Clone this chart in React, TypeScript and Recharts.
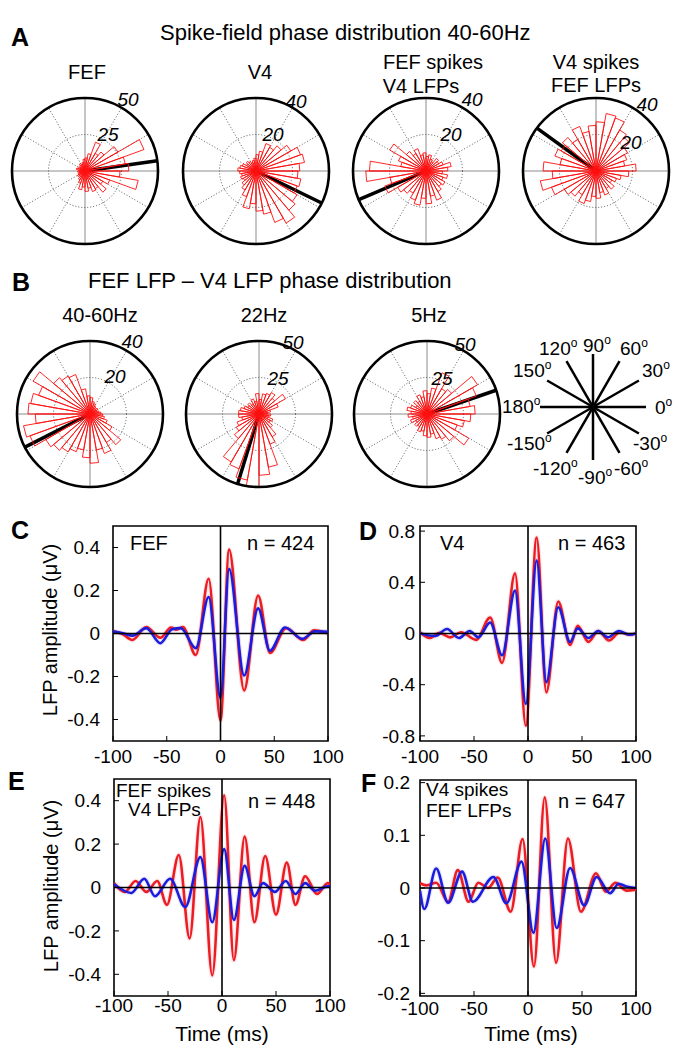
import React from 'react';
import {
  LineChart,
  Line,
  ScatterChart,
  Scatter,
  XAxis,
  YAxis,
  ReferenceLine,
  ReferenceDot,
  ReferenceArea,
} from 'recharts';

const FONT = '"Liberation Sans", Arial, Helvetica, sans-serif';
const RED = '#ec1c24';
const BLUE = '#1c1cdc';

// Phase histograms: counts in 36 bins of 10 deg, from 0 deg counter-clockwise.
const roseFef = [30, 28, 43, 26, 17, 14, 21, 12, 9, 8, 6, 5, 6, 5, 4, 5, 6, 4, 5, 4, 5, 6, 5, 7, 9, 13, 11, 14, 12, 15, 14, 19, 14, 18, 37, 24];
const roseV4 = [24, 27, 26, 22, 18, 15, 16, 11, 9, 7, 6, 5, 6, 7, 6, 8, 9, 10, 9, 8, 9, 8, 10, 12, 15, 21, 18, 22, 24, 30, 33, 28, 26, 24, 25, 23];
const roseFefV4 = [12, 14, 10, 8, 9, 6, 7, 9, 8, 10, 9, 13, 11, 14, 23, 16, 14, 31, 33, 20, 24, 18, 16, 14, 17, 19, 15, 18, 14, 17, 13, 11, 12, 10, 12, 9];
const roseV4Fef = [22, 16, 18, 20, 24, 26, 31, 32, 27, 25, 22, 26, 20, 24, 22, 24, 20, 29, 24, 31, 26, 20, 18, 15, 19, 17, 14, 15, 12, 14, 11, 13, 10, 12, 14, 18];
const roseGamma = [6, 5, 4, 5, 4, 5, 6, 7, 9, 10, 14, 23, 24, 26, 36, 30, 33, 34, 30, 37, 35, 28, 26, 24, 22, 20, 24, 27, 20, 23, 18, 22, 14, 10, 8, 7];
const roseBeta = [6, 8, 14, 21, 14, 17, 15, 14, 10, 14, 9, 11, 8, 10, 9, 11, 13, 14, 14, 12, 16, 18, 22, 38, 40, 46, 50, 42, 37, 22, 18, 12, 9, 10, 7, 8];
const roseTheta = [33, 30, 36, 40, 22, 20, 30, 18, 14, 16, 12, 14, 10, 12, 9, 12, 14, 11, 13, 10, 12, 9, 11, 10, 13, 12, 15, 16, 14, 18, 20, 24, 33, 22, 26, 30];

// mean phase (deg) of each histogram
const meanFef = 8;
const meanV4 = -26;
const meanFefV4 = 203;
const meanV4Fef = 144;
const meanGamma = 207;
const meanBeta = 253;
const meanTheta = 19;

const gridAngles = [0, 30, 60, 90, 120, 150];
const legendAngles = [0, 30, 60, 90, 120, 150, 180, 210, 240, 270, 300, 330];

// Spike-triggered LFP averages: time (ms) / amplitude (uV) at turning points
const timeTicks = [-100, -50, 0, 50, 100];

const cRedT = [-100, -92, -82, -69, -56, -46, -41, -35, -23, -11, 0, 8, 22, 35, 46, 61, 77, 87, 100];
const cRedV = [0.01, 0, -0.03, 0.03, -0.02, 0.028, 0.018, 0.03, -0.1, 0.255, -0.405, 0.39, -0.265, 0.177, -0.09, 0.025, -0.03, 0.015, 0];
const cBlueT = [-100, -90, -82, -69, -56, -45, -37, -23, -11, 0, 8, 22, 35, 46, 60, 76, 88, 100];
const cBlueV = [0.01, 0, -0.01, 0.025, -0.045, 0.02, 0.025, -0.068, 0.17, -0.3, 0.3, -0.195, 0.117, -0.08, 0.028, -0.025, 0.01, 0.008];

const dRedT = [-100, -91, -82, -72, -62, -48, -35, -24, -12, -2, 8, 17, 28, 39, 46, 56, 65, 75, 85, 94, 100];
const dRedV = [0.01, -0.035, 0.005, -0.03, 0.01, -0.05, 0.125, -0.23, 0.47, -0.72, 0.75, -0.46, 0.25, -0.09, 0.06, -0.066, 0.02, -0.055, 0.01, -0.01, 0];
const dBlueT = [-100, -86, -75, -64, -54, -46, -35, -24, -12, -2, 8, 17, 28, 39, 46, 56, 65, 74, 84, 94, 100];
const dBlueV = [0, -0.02, 0.035, -0.035, 0.02, -0.03, 0.086, -0.17, 0.335, -0.55, 0.57, -0.38, 0.205, -0.066, 0.04, -0.035, 0.02, -0.03, 0.02, -0.01, 0];

const eRedT = [-100, -90, -80, -70, -60, -51, -40, -30, -20, -9, 2, 11, 21, 30, 40, 50, 60, 68, 77, 88, 98, 100];
const eRedV = [0.02, -0.02, 0.03, -0.02, 0.03, -0.08, 0.15, -0.235, 0.325, -0.405, 0.425, -0.335, 0.235, -0.16, 0.145, -0.125, 0.115, -0.08, 0.052, -0.03, 0.02, 0.015];
const eBlueT = [-100, -84, -72, -62, -48, -34, -20, -9, 2, 11, 21, 30, 38, 49, 59, 68, 77, 86, 98, 100];
const eBlueV = [0.015, -0.025, 0.04, -0.04, 0.04, -0.09, 0.14, -0.16, 0.177, -0.15, 0.1, -0.04, 0.02, -0.02, 0.03, -0.03, 0.02, -0.015, 0.005, 0.005];

const fRedT = [-100, -94, -85, -74, -65, -55, -46, -37, -28, -16, -5, 5.5, 15.5, 26, 37, 49, 63, 72, 81, 91, 100];
const fRedV = [0.009, 0.005, 0.01, -0.026, 0.034, -0.026, 0.01, 0, 0.02, -0.045, 0.093, -0.149, 0.172, -0.142, 0.094, -0.045, 0.028, -0.007, 0.01, -0.005, -0.003];
const fBlueT = [-100, -96, -85, -74, -61, -51, -32, -20, -6, 5, 16, 26.6, 39, 52, 63.6, 76, 84, 91, 100];
const fBlueV = [-0.005, -0.04, 0.037, -0.028, 0.031, -0.026, 0.021, -0.029, 0.05, -0.085, 0.094, -0.076, 0.038, -0.033, 0.021, -0.01, 0.008, 0.003, 0];

const noDot = () => <g />;
const toPts = (t: number[], v: number[]) => t.map((x, i) => ({ t: x, v: v[i] }));
const rad = (d: number) => (d * Math.PI) / 180;

const R = 73;

function Rose({ cx, cy, counts, max, mean }: { cx: number; cy: number; counts: number[]; max: number; mean: number }) {
  const pad = 6;
  // MATLAB-style rose: each bin is a triangle from the origin
  const pts: { x: number; y: number }[] = [];
  counts.forEach((c, i) => {
    const a1 = rad(i * 10);
    const a2 = rad((i + 1) * 10);
    pts.push({ x: 0, y: 0 }, { x: c * Math.cos(a1), y: c * Math.sin(a1) }, { x: c * Math.cos(a2), y: c * Math.sin(a2) });
  });
  pts.push({ x: 0, y: 0 });
  const m = rad(mean);
  return (
    <div style={{ position: 'absolute', left: cx - R - pad, top: cy - R - pad }}>
      <ScatterChart width={2 * (R + pad)} height={2 * (R + pad)} margin={{ top: pad, right: pad, bottom: pad, left: pad }}>
        <XAxis type="number" dataKey="x" domain={[-max, max]} hide allowDataOverflow />
        <YAxis type="number" dataKey="y" domain={[-max, max]} hide allowDataOverflow />
        {gridAngles.map((a) => {
          const solid = a % 90 === 0;
          return (
            <ReferenceLine
              key={a}
              ifOverflow="visible"
              segment={[
                { x: -max * Math.cos(rad(a)), y: -max * Math.sin(rad(a)) },
                { x: max * Math.cos(rad(a)), y: max * Math.sin(rad(a)) },
              ]}
              stroke={solid ? '#8c8c8c' : '#333'}
              strokeWidth={solid ? 1 : 0.8}
              strokeDasharray={solid ? undefined : '1 2'}
            />
          );
        })}
        <ReferenceDot x={0} y={0} r={R / 2} fill="none" stroke="#444" strokeWidth={0.9} strokeDasharray="1 2" />
        <Scatter
          data={pts}
          fill={RED}
          line={{ stroke: '#ff1010', strokeWidth: 0.9 }}
          shape={noDot}
          isAnimationActive={false}
        />
        <ReferenceLine
          ifOverflow="visible"
          segment={[
            { x: 0, y: 0 },
            { x: max * Math.cos(m), y: max * Math.sin(m) },
          ]}
          stroke="#000"
          strokeWidth={3.5}
        />
        <ReferenceDot x={0} y={0} r={R} fill="none" stroke="#000" strokeWidth={2.6} />
      </ScatterChart>
    </div>
  );
}

function AngleKey({ cx, cy }: { cx: number; cy: number }) {
  const L = 53;
  return (
    <div style={{ position: 'absolute', left: cx - L - 4, top: cy - L - 4 }}>
      <ScatterChart width={2 * L + 8} height={2 * L + 8} margin={{ top: 4, right: 4, bottom: 4, left: 4 }}>
        <XAxis type="number" dataKey="x" domain={[-1, 1]} hide />
        <YAxis type="number" dataKey="y" domain={[-1, 1]} hide />
        <Scatter data={[{ x: 0, y: 0 }]} shape={noDot} isAnimationActive={false} />
        {legendAngles.map((a) => (
          <ReferenceLine
            key={a}
            ifOverflow="visible"
            segment={[
              { x: 0, y: 0 },
              { x: Math.cos(rad(a)), y: Math.sin(rad(a)) },
            ]}
            stroke="#000"
            strokeWidth={2.5}
          />
        ))}
      </ScatterChart>
    </div>
  );
}

const tickStyle = { fontSize: 19, fill: '#000', fontFamily: FONT };

interface PanelProps {
  left: number;
  top: number;
  w: number;
  h: number;
  yDomain: [number, number];
  yTicks: number[];
  yGap: number;
  xGap: number;
  red: { t: number; v: number }[];
  blue: { t: number; v: number }[];
}

function LfpPanel({ left, top, w, h, yDomain, yTicks, yGap, xGap, red, blue }: PanelProps) {
  const yW = 60;
  const mTop = 12;
  const mRight = 24;
  const xH = 40;
  return (
    <div style={{ position: 'absolute', left: left - yW, top: top - mTop }}>
      <LineChart width={yW + w + mRight} height={mTop + h + xH} margin={{ top: mTop, right: mRight, bottom: 0, left: 0 }}>
        <XAxis
          type="number"
          dataKey="t"
          domain={[-100, 100]}
          ticks={timeTicks}
          allowDataOverflow
          height={xH}
          axisLine={false}
          stroke="#000"
          tickSize={-5}
          tickMargin={5 + xGap}
          tick={tickStyle}
        />
        <YAxis
          type="number"
          domain={yDomain}
          ticks={yTicks}
          allowDataOverflow
          width={yW}
          axisLine={false}
          stroke="#000"
          tickSize={-5}
          tickMargin={5 + yGap}
          tick={tickStyle}
        />
        <ReferenceArea x1={-100} x2={100} y1={yDomain[0]} y2={yDomain[1]} fill="none" stroke="#000" strokeWidth={1.6} />
        {/* faint s.e.m. halo */}
        <Line data={red} dataKey="v" type="monotone" stroke={RED} strokeOpacity={0.1} strokeWidth={5} dot={false} isAnimationActive={false} />
        <Line data={blue} dataKey="v" type="monotone" stroke={BLUE} strokeOpacity={0.1} strokeWidth={5} dot={false} isAnimationActive={false} />
        <Line data={red} dataKey="v" type="monotone" stroke={RED} strokeWidth={2.6} dot={false} isAnimationActive={false} />
        <Line data={blue} dataKey="v" type="monotone" stroke={BLUE} strokeWidth={2.6} dot={false} isAnimationActive={false} />
        <ReferenceLine y={0} stroke="#000" strokeWidth={1.6} />
        <ReferenceLine x={0} stroke="#000" strokeWidth={1.6} />
      </LineChart>
    </div>
  );
}

function Deg({ x, y, label }: { x: number; y: number; label: string }) {
  return (
    <text x={x} y={y} fontSize={19}>
      {label}
      <tspan dy={-8} fontSize={12}>
        o
      </tspan>
    </text>
  );
}

export default function App() {
  return (
    <div style={{ position: 'absolute', left: 0, top: 0, width: 681, height: 1050, background: '#fff', fontFamily: FONT }}>
      <Rose cx={85} cy={171} counts={roseFef} max={50} mean={meanFef} />
      <Rose cx={256} cy={171} counts={roseV4} max={40} mean={meanV4} />
      <Rose cx={426} cy={171} counts={roseFefV4} max={40} mean={meanFefV4} />
      <Rose cx={596} cy={171} counts={roseV4Fef} max={40} mean={meanV4Fef} />

      <Rose cx={90} cy={414} counts={roseGamma} max={40} mean={meanGamma} />
      <Rose cx={259} cy={414} counts={roseBeta} max={50} mean={meanBeta} />
      <Rose cx={427} cy={414} counts={roseTheta} max={50} mean={meanTheta} />
      <AngleKey cx={593} cy={407} />

      <LfpPanel left={113} top={526} w={215} h={215} yDomain={[-0.5, 0.5]} yTicks={[-0.4, -0.2, 0, 0.2, 0.4]} yGap={13} xGap={9} red={toPts(cRedT, cRedV)} blue={toPts(cBlueT, cBlueV)} />
      <LfpPanel left={420} top={526} w={216} h={215} yDomain={[-0.84, 0.84]} yTicks={[-0.8, -0.4, 0, 0.4, 0.8]} yGap={5} xGap={9} red={toPts(dRedT, dRedV)} blue={toPts(dBlueT, dBlueV)} />
      <LfpPanel left={114} top={779} w={216} h={217} yDomain={[-0.5, 0.5]} yTicks={[-0.4, -0.2, 0, 0.2, 0.4]} yGap={13} xGap={3} red={toPts(eRedT, eRedV)} blue={toPts(eBlueT, eBlueV)} />
      <LfpPanel left={420} top={780} w={216} h={216} yDomain={[-0.205, 0.205]} yTicks={[-0.2, -0.1, 0, 0.1, 0.2]} yGap={10} xGap={6} red={toPts(fRedT, fRedV)} blue={toPts(fBlueT, fBlueV)} />

      <svg width={681} height={1050} style={{ position: 'absolute', left: 0, top: 0, pointerEvents: 'none' }} fontFamily={FONT} fill="#000">
        {/* panel letters */}
        <text x={11} y={46} fontSize={25} fontWeight="bold">A</text>
        <text x={12} y={291} fontSize={25} fontWeight="bold">B</text>
        <text x={11} y={539} fontSize={25} fontWeight="bold">C</text>
        <text x={359} y={540} fontSize={25} fontWeight="bold">D</text>
        <text x={8} y={790} fontSize={25} fontWeight="bold">E</text>
        <text x={361} y={792} fontSize={25} fontWeight="bold">F</text>

        {/* row A */}
        <text x={160} y={40} fontSize={22}>Spike-field phase distribution 40-60Hz</text>
        <text x={87} y={79} fontSize={20} textAnchor="middle">FEF</text>
        <text x={260} y={79} fontSize={20} textAnchor="middle">V4</text>
        <text x={433} y={69} fontSize={20} textAnchor="middle">FEF spikes</text>
        <text x={421} y={93} fontSize={20} textAnchor="middle">V4 LFPs</text>
        <text x={596} y={69} fontSize={20} textAnchor="middle">V4 spikes</text>
        <text x={596} y={92} fontSize={20} textAnchor="middle">FEF LFPs</text>

        <g fontSize={19} fontStyle="italic" textAnchor="middle">
          <text x={128} y={106}>50</text>
          <text x={108} y={141}>25</text>
          <text x={296} y={108}>40</text>
          <text x={273} y={141}>20</text>
          <text x={472} y={106}>40</text>
          <text x={451} y={141}>20</text>
          <text x={647} y={111}>40</text>
          <text x={631} y={149}>20</text>
          <text x={132} y={348}>40</text>
          <text x={115} y={383}>20</text>
          <text x={293} y={349}>50</text>
          <text x={278} y={385}>25</text>
          <text x={465} y={351}>50</text>
          <text x={442} y={385}>25</text>
        </g>

        {/* row B */}
        <text x={88} y={288} fontSize={22}>FEF LFP – V4 LFP phase distribution</text>
        <text x={100} y={322} fontSize={20} textAnchor="middle">40-60Hz</text>
        <text x={264} y={322} fontSize={20} textAnchor="middle">22Hz</text>
        <text x={429} y={322} fontSize={20} textAnchor="middle">5Hz</text>

        <Deg x={583} y={352} label="90" />
        <Deg x={539} y={355} label="120" />
        <Deg x={620} y={355} label="60" />
        <Deg x={513} y={377} label="150" />
        <Deg x={642} y={377} label="30" />
        <Deg x={502} y={413} label="180" />
        <Deg x={655} y={414} label="0" />
        <Deg x={507} y={450} label="-150" />
        <Deg x={633} y={450} label="-30" />
        <Deg x={533} y={475} label="-120" />
        <Deg x={578} y={484} label="-90" />
        <Deg x={614} y={475} label="-60" />

        {/* C-F annotations */}
        <text x={130} y={550} fontSize={20}>FEF</text>
        <text x={247} y={550} fontSize={20}>n = 424</text>
        <text x={440} y={550} fontSize={20}>V4</text>
        <text x={558} y={550} fontSize={20}>n = 463</text>
        <text x={116} y={797} fontSize={19}>FEF spikes</text>
        <text x={128} y={816} fontSize={19}>V4 LFPs</text>
        <text x={248} y={808} fontSize={20}>n = 448</text>
        <text x={426} y={796} fontSize={19}>V4 spikes</text>
        <text x={426} y={817} fontSize={19}>FEF LFPs</text>
        <text x={558} y={808} fontSize={20}>n = 647</text>

        <text transform="translate(57,630) rotate(-90)" fontSize={20} textAnchor="middle">LFP amplitude (μV)</text>
        <text transform="translate(58,886) rotate(-90)" fontSize={20} textAnchor="middle">LFP amplitude (μV)</text>
        <text x={222} y={1041} fontSize={21} textAnchor="middle">Time (ms)</text>
        <text x={531} y={1041} fontSize={21} textAnchor="middle">Time (ms)</text>
      </svg>
    </div>
  );
}
